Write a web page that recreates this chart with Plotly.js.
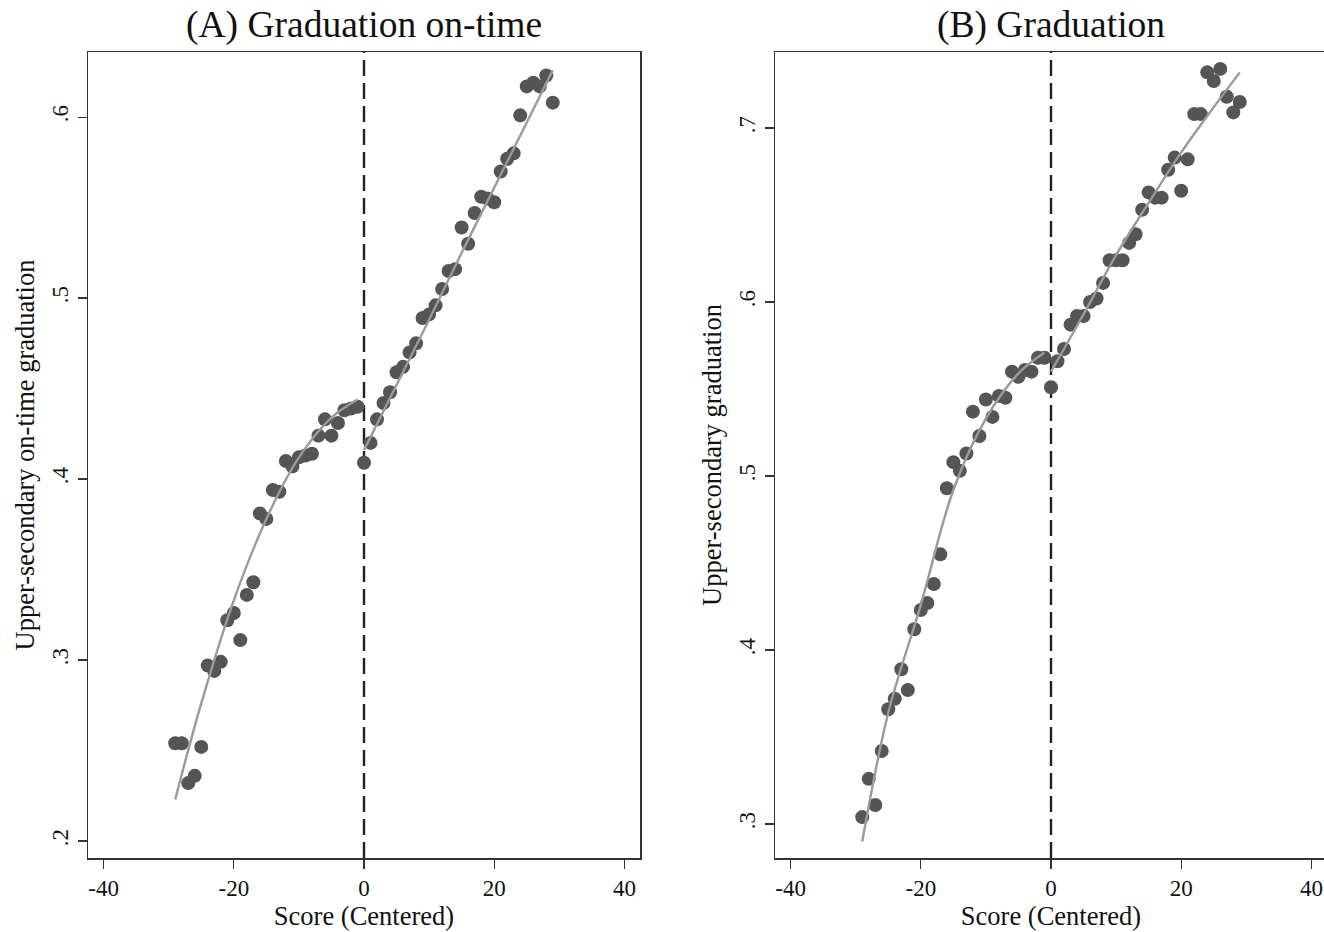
<!DOCTYPE html>
<html><head><meta charset="utf-8">
<script src="https://cdn.plot.ly/plotly-3.0.1.min.js"></script>
<style>html,body{margin:0;padding:0;overflow:hidden;background:#fff}#chart{width:1330px;height:932px}</style>
</head><body><div id="chart"></div>
<script>
// ---- data ----
const panelTitles = ["(A) Graduation on-time", "(B) Graduation"];
const yTitles = ["Upper-secondary on-time graduation", "Upper-secondary graduation"];
const xTitle = "Score (Centered)";
const cutoff = 0;

const scoreLeft = [-29,-28,-27,-26,-25,-24,-23,-22,-21,-20,-19,-18,-17,-16,-15,-14,-13,-12,-11,-10,-9,-8,-7,-6,-5,-4,-3,-2,-1];
const scoreRight = [0,1,2,3,4,5,6,7,8,9,10,11,12,13,14,15,16,17,18,19,20,21,22,23,24,25,26,27,28,29];

const onTimeLeft = [0.254,0.254,0.232,0.236,0.252,0.297,0.294,0.299,0.322,0.326,0.311,0.336,0.343,0.381,0.378,0.394,0.393,0.410,0.407,0.412,0.413,0.414,0.424,0.433,0.424,0.431,0.438,0.439,0.440];
const onTimeRight = [0.409,0.420,0.433,0.442,0.448,0.459,0.462,0.470,0.475,0.489,0.491,0.496,0.505,0.515,0.516,0.539,0.530,0.547,0.556,0.555,0.553,0.570,0.577,0.580,0.601,0.617,0.619,0.617,0.623,0.608];

const gradLeft = [0.304,0.326,0.311,0.342,0.366,0.372,0.389,0.377,0.412,0.423,0.427,0.438,0.455,0.493,0.508,0.503,0.513,0.537,0.523,0.544,0.534,0.546,0.545,0.560,0.557,0.561,0.560,0.568,0.568];
const gradRight = [0.551,0.566,0.573,0.587,0.592,0.592,0.600,0.602,0.611,0.624,0.624,0.624,0.634,0.639,0.653,0.663,0.660,0.660,0.676,0.683,0.664,0.682,0.708,0.708,0.732,0.727,0.734,0.718,0.709,0.715];

// fitted polynomial curves
const fitXLeft = [-29,-25,-20,-15,-10,-5,-1];
const fitXRight = [0,5,10,15,20,25,29];
const onTimeFitLeft = [0.223,0.276,0.333,0.378,0.412,0.434,0.444];
const onTimeFitRight = [0.416,0.452,0.488,0.525,0.561,0.597,0.626];
const gradFitLeft = [0.290,0.364,0.426,0.492,0.533,0.559,0.571];
const gradFitRight = [0.560,0.593,0.627,0.657,0.686,0.712,0.732];

const xTicks = [-40,-20,0,20,40];
const yTicksA = [0.2,0.3,0.4,0.5,0.6];
const yTicksB = [0.3,0.4,0.5,0.6,0.7];
const yTickTextA = [".2",".3",".4",".5",".6"];
const yTickTextB = [".3",".4",".5",".6",".7"];

// ---- style ----
const W = 1330, H = 932;
const FONT = "Liberation Serif, Times New Roman, serif";
const dotColor = "#555555";
const fitColor = "#9a9a9a";

function dots(x, y, xa, ya) {
  return {x, y, xaxis: xa, yaxis: ya, type: "scatter", mode: "markers",
    marker: {color: dotColor, size: 14, line: {width: 0}}, showlegend: false, hoverinfo: "x+y"};
}
function fit(x, y, xa, ya) {
  return {x, y, xaxis: xa, yaxis: ya, type: "scatter", mode: "lines",
    line: {color: fitColor, width: 2.4, shape: "spline", smoothing: 1}, showlegend: false, hoverinfo: "skip"};
}

const data = [
  dots(scoreLeft, onTimeLeft, "x", "y"),
  dots(scoreRight, onTimeRight, "x", "y"),
  fit(fitXLeft, onTimeFitLeft, "x", "y"),
  fit(fitXRight, onTimeFitRight, "x", "y"),
  dots(scoreLeft, gradLeft, "x2", "y2"),
  dots(scoreRight, gradRight, "x2", "y2"),
  fit(fitXLeft, gradFitLeft, "x2", "y2"),
  fit(fitXRight, gradFitRight, "x2", "y2"),
];

const yDom = [(H - 858) / H, (H - 52) / H];
const axCommon = {
  showgrid: false, zeroline: false, showline: true, mirror: true,
  linecolor: "#333", linewidth: 1.5, ticks: "outside", ticklen: 9, tickwidth: 1.3, tickcolor: "#333",
  tickfont: {family: FONT, size: 23, color: "#111"}, automargin: false
};
function xAxis(domain, anchor) {
  return Object.assign({}, axCommon, {domain, anchor, range: [-42.4, 42.4],
    tickmode: "array", tickvals: xTicks, ticktext: xTicks.map(String),
    title: {text: xTitle, font: {family: FONT, size: 26.5, color: "#111"}, standoff: 3}});
}
function yAxis(range, vals, texts, title, anchor) {
  return Object.assign({}, axCommon, {domain: yDom, anchor, range,
    tickmode: "array", tickvals: vals, ticktext: texts, tickangle: -90,
    title: {text: title, font: {family: FONT, size: 26.5, color: "#111"}, standoff: 6}});
}

const layout = {
  width: W, height: H,
  margin: {l: 0, r: 0, t: 0, b: 0},
  paper_bgcolor: "#fff", plot_bgcolor: "#fff",
  font: {family: FONT, color: "#111"},
  xaxis: xAxis([88 / W, 640 / W], "y"),
  yaxis: yAxis([0.1906, 0.636], yTicksA, yTickTextA, yTitles[0], "x"),
  xaxis2: xAxis([775 / W, 1327 / W], "y2"),
  yaxis2: yAxis([0.2805, 0.7437], yTicksB, yTickTextB, yTitles[1], "x2"),
  shapes: [
    {type: "line", xref: "x", yref: "y domain", x0: cutoff, x1: cutoff, y0: 0, y1: 1,
      line: {color: "#222", width: 2.4, dash: "16px,7px"}, layer: "below"},
    {type: "line", xref: "x2", yref: "y2 domain", x0: cutoff, x1: cutoff, y0: 0, y1: 1,
      line: {color: "#222", width: 2.4, dash: "16px,7px"}, layer: "below"}
  ],
  annotations: [
    {text: panelTitles[0], xref: "x domain", yref: "paper", x: 0.5, y: (H - 25) / H,
      xanchor: "center", yanchor: "middle", showarrow: false, font: {family: FONT, size: 37.5, color: "#111"}},
    {text: panelTitles[1], xref: "x2 domain", yref: "paper", x: 0.5, y: (H - 25) / H,
      xanchor: "center", yanchor: "middle", showarrow: false, font: {family: FONT, size: 37.5, color: "#111"}}
  ]
};

Plotly.newPlot("chart", data, layout, {displayModeBar: false, staticPlot: true});
</script>
</body></html>
